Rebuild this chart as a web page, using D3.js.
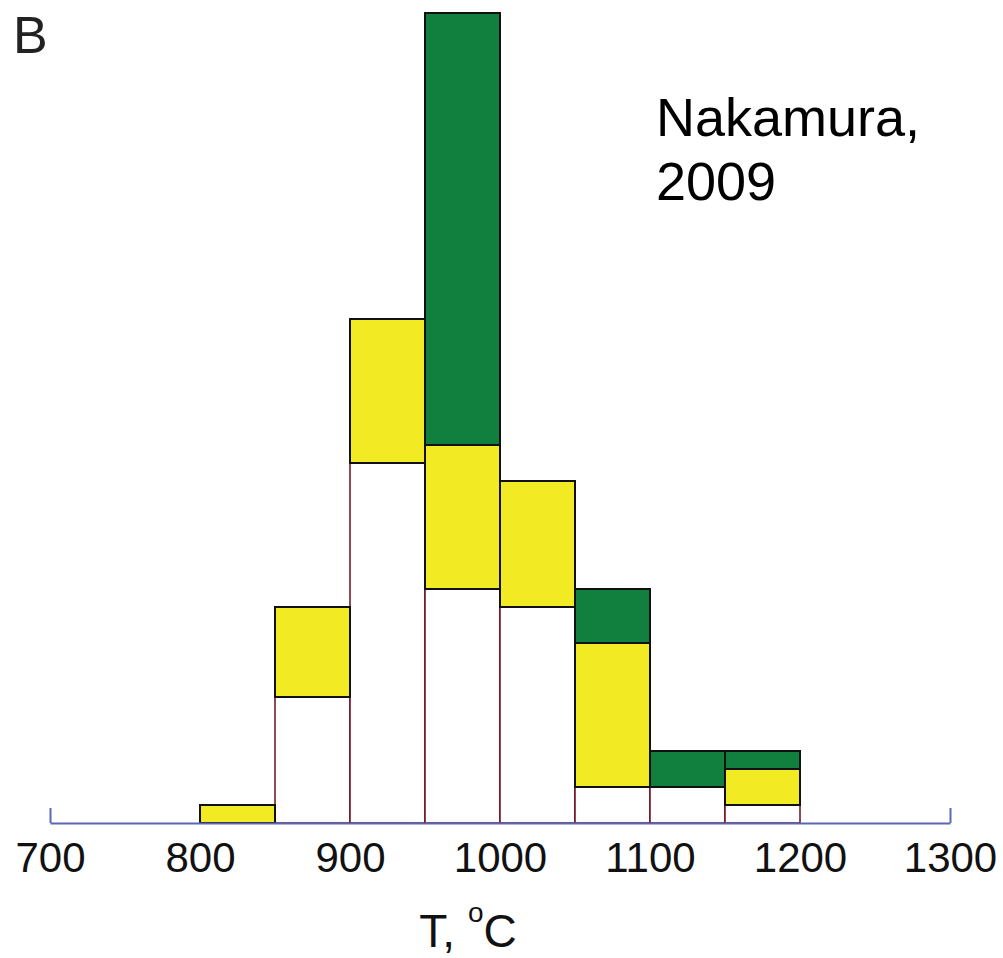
<!DOCTYPE html>
<html>
<head>
<meta charset="utf-8">
<script src="https://cdn.jsdelivr.net/npm/d3@7"></script>
<style>
  body { margin: 0; background: #fff; }
  svg { display: block; font-family: "Liberation Sans", Arial, sans-serif; }
</style>
</head>
<body>
<div id="chart"></div>
<script>
// Data: counts per 50 degree bin (stacked white / yellow / green)
const binStarts = [800, 850, 900, 950, 1000, 1050, 1100, 1150];
const binWidth = 50;
const whiteCounts = [0, 7, 20, 13, 12, 2, 2, 1];
const yellowCounts = [1, 5, 8, 8, 7, 8, 0, 2];
const greenCounts = [0, 0, 0, 24, 0, 3, 2, 1];
const tickValues = [700, 800, 900, 1000, 1100, 1200, 1300];

const W = 1003, H = 958;
const AXIS_Y = 823;

const svg = d3.select('#chart').append('svg')
  .attr('width', W)
  .attr('height', H);

const x = d3.scaleLinear().domain([700, 1300]).range([50, 950]);
const y = d3.scaleLinear().domain([0, 45]).range([AXIS_Y, 13]);

// Stack the three series
const rows = binStarts.map((b, i) => ({
  bin: b, white: whiteCounts[i], yellow: yellowCounts[i], green: greenCounts[i]
}));
const stack = d3.stack().keys(['white', 'yellow', 'green']);
const series = stack(rows);

const fills = { white: '#ffffff', yellow: '#f2ea22', green: '#11803f' };
const strokes = { white: '#6e0f1c', yellow: '#111', green: '#111' };
const widths = { white: 1.5, yellow: 2, green: 2 };

series.forEach(s => {
  svg.append('g')
    .selectAll('rect')
    .data(s.filter(d => d[1] - d[0] > 0))
    .join('rect')
    .attr('x', d => x(d.data.bin))
    .attr('width', d => x(d.data.bin + binWidth) - x(d.data.bin))
    .attr('y', d => y(d[1]))
    .attr('height', d => y(d[0]) - y(d[1]))
    .attr('fill', fills[s.key])
    .attr('stroke', strokes[s.key])
    .attr('stroke-width', widths[s.key]);
});

// Axis line with end ticks
const axisColor = '#5b66b5';
svg.append('g')
  .attr('transform', `translate(0, ${AXIS_Y})`)
  .call(d3.axisBottom(x).tickValues([700, 1300]).tickSizeInner(-15).tickSizeOuter(0).tickFormat(''))
  .call(g => g.selectAll('path, line').attr('stroke', axisColor).attr('stroke-width', 2));

// Tick labels
svg.append('g')
  .attr('transform', `translate(0, ${AXIS_Y})`)
  .call(d3.axisBottom(x).tickValues(tickValues).tickSize(0).tickPadding(0).tickFormat(d3.format('d')))
  .call(g => g.select('.domain').remove())
  .call(g => g.selectAll('text')
    .attr('dy', 0)
    .attr('y', 49)
    .attr('fill', '#111')
    .style('font-size', '42px'));

// Axis title
const title = svg.append('text')
  .attr('x', 468)
  .attr('y', 947)
  .attr('text-anchor', 'middle')
  .attr('fill', '#111')
  .style('font-size', '46px');
title.append('tspan').text('T, ');
title.append('tspan').attr('dy', -25).style('font-size', '28px').text('o');
title.append('tspan').attr('dy', 25).text('C');

// Panel label and annotation
svg.append('text')
  .attr('x', 13).attr('y', 53)
  .attr('fill', '#222')
  .style('font-size', '52px')
  .text('B');

svg.append('text')
  .attr('x', 656).attr('y', 136)
  .attr('fill', '#000')
  .style('font-size', '54px')
  .text('Nakamura,');

svg.append('text')
  .attr('x', 656).attr('y', 200)
  .attr('fill', '#000')
  .style('font-size', '54px')
  .text('2009');
</script>
</body>
</html>
